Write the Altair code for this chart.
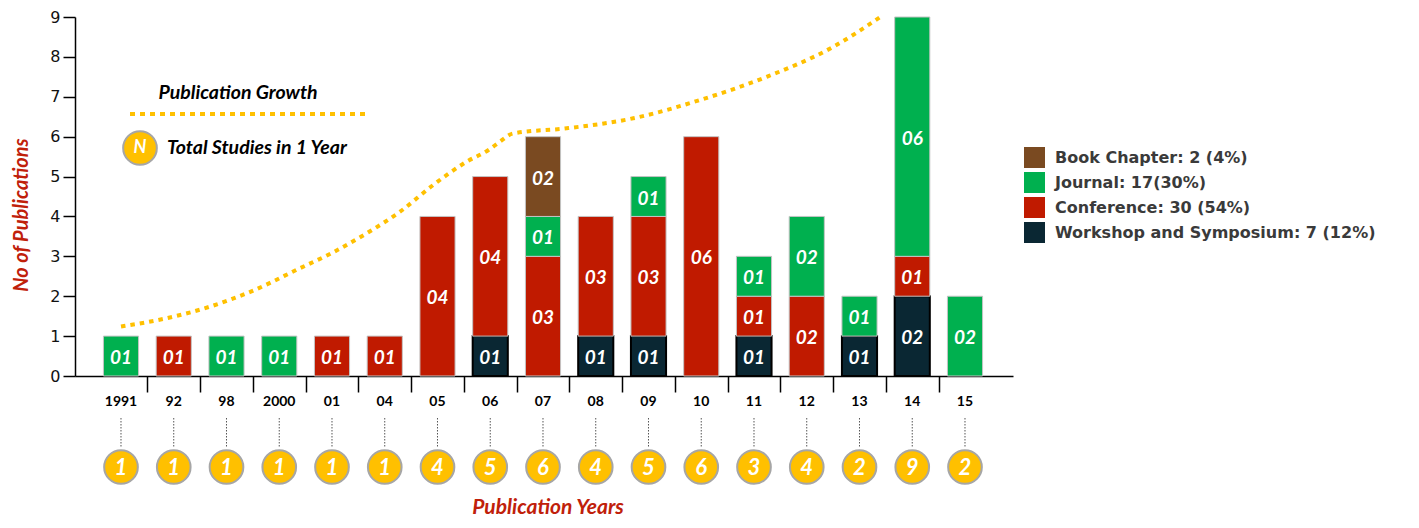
import altair as alt
import pandas as pd

# ---------------- data ----------------
years = ["1991", "92", "98", "2000", "01", "04", "05", "06", "07", "08",
         "09", "10", "11", "12", "13", "14", "15"]
workshop = [0, 0, 0, 0, 0, 0, 0, 1, 0, 1, 1, 0, 1, 0, 1, 2, 0]
conference = [0, 1, 0, 0, 1, 1, 4, 4, 3, 3, 3, 6, 1, 2, 0, 1, 0]
journal = [1, 0, 1, 1, 0, 0, 0, 0, 1, 0, 1, 0, 1, 2, 1, 6, 2]
book = [0, 0, 0, 0, 0, 0, 0, 0, 2, 0, 0, 0, 0, 0, 0, 0, 0]
totals = [1, 1, 1, 1, 1, 1, 4, 5, 6, 4, 5, 6, 3, 4, 2, 9, 2]

# publication growth curve (position along the year axis, value)
growth_pos = [0.0, 0.87, 1.69, 2.45, 3.39, 4.02, 4.66, 5.29, 5.92, 6.55,
              6.96, 7.18, 7.43, 8.45, 9.71, 10.98, 12.24, 13.50, 14.45]
growth_val = [1.24, 1.45, 1.74, 2.11, 2.70, 3.10, 3.58, 4.12, 4.79, 5.37,
              5.66, 5.87, 6.08, 6.21, 6.46, 6.92, 7.50, 8.25, 9.05]

cat_names = ["Workshop and Symposium: 7 (12%)", "Conference: 30 (54%)",
             "Journal: 17(30%)", "Book Chapter: 2 (4%)"]
cat_colors = ["#0a2733", "#c01a00", "#00b04f", "#7a4a21"]
series = [workshop, conference, journal, book]

rows = []
for i, y in enumerate(years):
    for k, (name, vals) in enumerate(zip(cat_names, series)):
        if vals[i] > 0:
            rows.append({"idx": i, "year": y, "cat": name, "order": k,
                         "value": vals[i]})
bars_df = pd.DataFrame(rows)
years_df = pd.DataFrame({"idx": list(range(len(years))), "year": years,
                         "total": [str(t) for t in totals]})
growth_df = pd.DataFrame({"pos": growth_pos, "val": growth_val})

# ---------------- scales & axes ----------------
W, H = 938, 359
xscale = alt.Scale(domain=[-0.872, 16.91], nice=False, zero=False)
yscale = alt.Scale(domain=[0, 9], nice=False)
xaxis = alt.Axis(values=[i + 0.5 for i in range(16)], labels=False,
                 tickSize=16, tickColor="black", tickWidth=1.5,
                 domainColor="black", domainWidth=1.5, grid=False, title=None)
yaxis = alt.Axis(values=list(range(10)), tickSize=12, tickColor="black",
                 tickWidth=1.5, domainColor="black", domainWidth=1.5,
                 labelFont="DejaVu Sans", labelFontSize=16, labelColor="#111",
                 labelPadding=3, grid=False, title=None)
YELLOW = "#FFC000"
RED = "#c0200a"
FONT = "Lato"

legend_order = ["Book Chapter: 2 (4%)", "Journal: 17(30%)",
                "Conference: 30 (54%)", "Workshop and Symposium: 7 (12%)"]
legend_colors = [cat_colors[cat_names.index(n)] for n in legend_order]

stacked = alt.Chart(bars_df).transform_stack(
    stack="value", groupby=["idx"], as_=["y0", "y1"],
    sort=[alt.SortField("order", order="ascending")]
).transform_calculate(
    xl="datum.idx - 0.333", xr="datum.idx + 0.333",
    mid="(datum.y0 + datum.y1) / 2",
    label="(datum.value < 10 ? '0' : '') + datum.value"
)

bars = stacked.mark_bar().encode(
    x=alt.X("xl:Q", scale=xscale, axis=xaxis),
    x2="xr:Q",
    y=alt.Y("y0:Q", scale=yscale, axis=yaxis),
    y2="y1:Q",
    color=alt.Color("cat:N",
                    scale=alt.Scale(domain=legend_order, range=legend_colors),
                    legend=alt.Legend(orient="none", legendX=949,
                                      legendY=130, title=None,
                                      symbolType="square", symbolSize=441,
                                      symbolStrokeWidth=0,
                                      labelFont="DejaVu Sans",
                                      labelFontWeight="bold",
                                      labelFontSize=16, labelColor="#3a3a3a",
                                      labelLimit=0, labelOffset=10,
                                      rowPadding=4, padding=0)),
    stroke=alt.condition(alt.datum.order == 0, alt.value("#000000"),
                         alt.value("#c4c4c4")),
    strokeWidth=alt.condition(alt.datum.order == 0, alt.value(2),
                              alt.value(1)),
)

bar_text = stacked.mark_text(font=FONT, fontSize=19, fontWeight="bold",
                             fontStyle="italic", color="white",
                             baseline="middle", dy=2).encode(
    x=alt.X("idx:Q", scale=xscale, axis=xaxis),
    y=alt.Y("mid:Q", scale=yscale, axis=yaxis),
    text="label:N",
)

growth = alt.Chart(growth_df).mark_line(
    interpolate="monotone", color=YELLOW, strokeWidth=4,
    strokeDash=[4.5, 5], strokeCap="butt"
).encode(
    x=alt.X("pos:Q", scale=xscale, axis=xaxis),
    y=alt.Y("val:Q", scale=yscale, axis=yaxis),
)

base_years = alt.Chart(years_df)
year_labels = base_years.mark_text(font=FONT, fontSize=14, fontWeight="bold",
                                   color="black", baseline="middle").encode(
    x=alt.X("idx:Q", scale=xscale, axis=xaxis),
    y=alt.value(385),
    text="year:N",
)
connectors = base_years.mark_rule(color="#555555", strokeWidth=1,
                                  strokeDash=[1.5, 1.5]).encode(
    x=alt.X("idx:Q", scale=xscale, axis=xaxis),
    y=alt.value(401), y2=alt.value(430),
)
circles = base_years.mark_point(shape="circle", filled=True, fill=YELLOW,
                                stroke="#a6a6a6", strokeWidth=2, size=1134,
                                opacity=1).encode(
    x=alt.X("idx:Q", scale=xscale, axis=xaxis),
    y=alt.value(450),
)
circle_text = base_years.mark_text(font=FONT, fontSize=22, fontWeight="bold",
                                   fontStyle="italic", color="white",
                                   baseline="middle", dy=1).encode(
    x=alt.X("idx:Q", scale=xscale, axis=xaxis),
    y=alt.value(450),
    text="total:N",
)

# ---------------- in-plot key ----------------
key_df = pd.DataFrame({"growth": ["Publication Growth"],
                       "studies": ["Total Studies in 1 Year"],
                       "n": ["N"]})
key = alt.Chart(key_df)
key_line = key.mark_rule(color=YELLOW, strokeWidth=4, strokeDash=[5, 5],
                         strokeCap="butt").encode(
    x=alt.value(55), x2=alt.value(293), y=alt.value(97))
key_growth = key.mark_text(font=FONT, fontSize=19.5, fontWeight="bold",
                           fontStyle="italic", color="black", align="center",
                           baseline="middle").encode(
    x=alt.value(163), y=alt.value(76), text="growth:N")
key_circle = key.mark_point(shape="circle", filled=True, fill=YELLOW,
                            stroke="#a6a6a6", strokeWidth=2, size=1134,
                            opacity=1).encode(x=alt.value(65), y=alt.value(131))
key_n = key.mark_text(font=FONT, fontSize=18, fontWeight="bold",
                      fontStyle="italic", color="white",
                      baseline="middle").encode(
    x=alt.value(65), y=alt.value(131), text="n:N")
key_studies = key.mark_text(font=FONT, fontSize=19.5, fontWeight="bold",
                            fontStyle="italic", color="black", align="left",
                            baseline="middle").encode(
    x=alt.value(92), y=alt.value(131), text="studies:N")

# ---------------- titles ----------------
title_df = pd.DataFrame({"xt": ["Publication Years"],
                         "yt": ["No of Publications"]})
titles = alt.Chart(title_df)
x_title = titles.mark_text(font=FONT, fontSize=21, fontWeight="bold",
                           fontStyle="italic", color=RED, align="center",
                           baseline="middle").encode(
    x=alt.value(473), y=alt.value(491), text="xt:N")
y_title = titles.mark_text(font=FONT, fontSize=20, fontWeight="bold",
                           fontStyle="italic", color=RED, align="center",
                           baseline="middle", angle=270).encode(
    x=alt.value(-53), y=alt.value(198), text="yt:N")

chart = alt.layer(
    bars, bar_text, growth, connectors, circles, circle_text, year_labels,
    key_line, key_growth, key_circle, key_n, key_studies, x_title, y_title
).properties(
    width=W, height=H,
    autosize=alt.AutoSizeParams(type="none"),
    padding={"left": 67, "top": 9, "right": 398, "bottom": 144},
).configure_view(stroke=None).configure_axis(labelFont="DejaVu Sans")

chart.save("out.html", embed_options={"renderer": "svg", "actions": False})
